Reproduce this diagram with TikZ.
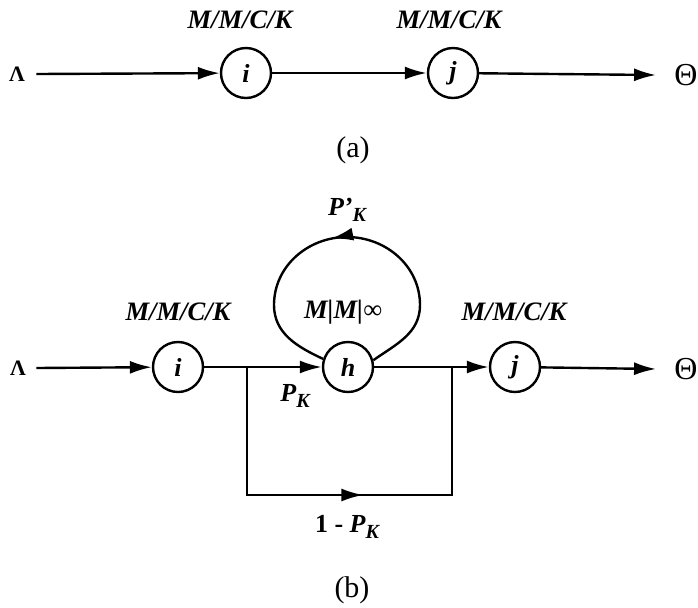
\documentclass[tikz,border=0pt]{standalone}
\usepackage{fontspec}
\setmainfont{Liberation Serif}
\usetikzlibrary{arrows.meta,decorations.markings,positioning}
\newcommand{\subK}{\raisebox{-0.5ex}{\fontsize{10}{12}\selectfont\bfseries\itshape K}}

\begin{document}
\begin{tikzpicture}[x=0.5pt, y=-0.5pt,
  queue/.style={draw, circle, line width=1.2pt, minimum size=25pt, inner sep=0pt,
    font=\fontsize{13}{15}\selectfont\bfseries\itshape},
  flow/.style={-{Latex[length=11pt,width=6.5pt]}, line width=1.2pt},
  wire/.style={line width=1.2pt},
  midarrow/.style={postaction={decorate}, decoration={markings,
    mark=at position #1 with {\arrow{Latex[length=11pt,width=6.5pt]}}}},
  kind/.style={font=\fontsize{13.3}{15}\selectfont\bfseries\itshape, inner sep=1pt},
  term/.style={font=\fontsize{16}{18}\selectfont, inner sep=1pt},
  tag/.style={font=\fontsize{15}{17}\selectfont},
  prob/.style={font=\fontsize{13}{15}\selectfont\bfseries\itshape, inner sep=1pt}
]
\useasboundingbox (0,0) rectangle (698,607);

% (a) two queues in tandem
\node[term, font=\fontsize{11}{13}\selectfont\bfseries] (lamA) at (17,74) {Λ};
\node[queue] (iA) at (246,73) {i};
\node[queue] (jA) at (453,73) {j};
\node[term] (thA) at (686,75) {Θ};
\node[kind, above=8pt of iA, xshift=-3pt] (kiA) {M/M/C/K};
\node[kind, above=8pt of jA, xshift=-2pt] (kjA) {M/M/C/K};
\draw[flow] (lamA.east) ++(9,0) -- (iA);
\draw[flow] (iA) -- (jA);
\draw[flow] (jA) -- ([xshift=-8pt]thA.west);
\node[tag] (capA) at (353,150) {(a)};

% (b) feedback queue with bypass
\node[term, font=\fontsize{11}{13}\selectfont\bfseries] (lamB) at (18,368) {Λ};
\node[queue] (iB) at (178,367) {i};
\node[queue] (hB) at (348,367) {h};
\node[queue] (jB) at (515,367) {j};
\node[term] (thB) at (686,369) {Θ};
\node[kind] (kiB) at (178,312) {M/M/C/K};
\node[kind] (khB) at (343,312) {M|M|∞};
\node[kind] (kjB) at (514,312) {M/M/C/K};
\coordinate (split) at (247,367);
\coordinate (merge) at (452,367);
\coordinate (low) at (350,495);
\coordinate (top) at (347,237);
\draw[flow] (lamB.east) ++(8,0) -- (iB);
\draw[flow] (iB) -- (hB);
\draw[flow] (hB) -- (jB);
\draw[flow] (jB) -- ([xshift=-8pt]thB.west);
\draw[wire, midarrow=0.53] (split) -- (split |- low) -- (merge |- low) -- (merge);
\draw[wire, midarrow=0.54] (hB.15) to[out=35,in=-90] (420,305) to[out=90,in=0] (top)
  to[out=180,in=90] (274,305) to[out=-90,in=155] (hB.162);
\node[prob] (pk) at (295,396) {P\subK};
\node[prob] (pkl) at (347,210) {P’\subK};
\node[prob] (pkb) at (347,527) {\upshape 1 - \itshape P\subK};
\node[tag] (capB) at (352,590) {(b)};
\end{tikzpicture}
\end{document}
